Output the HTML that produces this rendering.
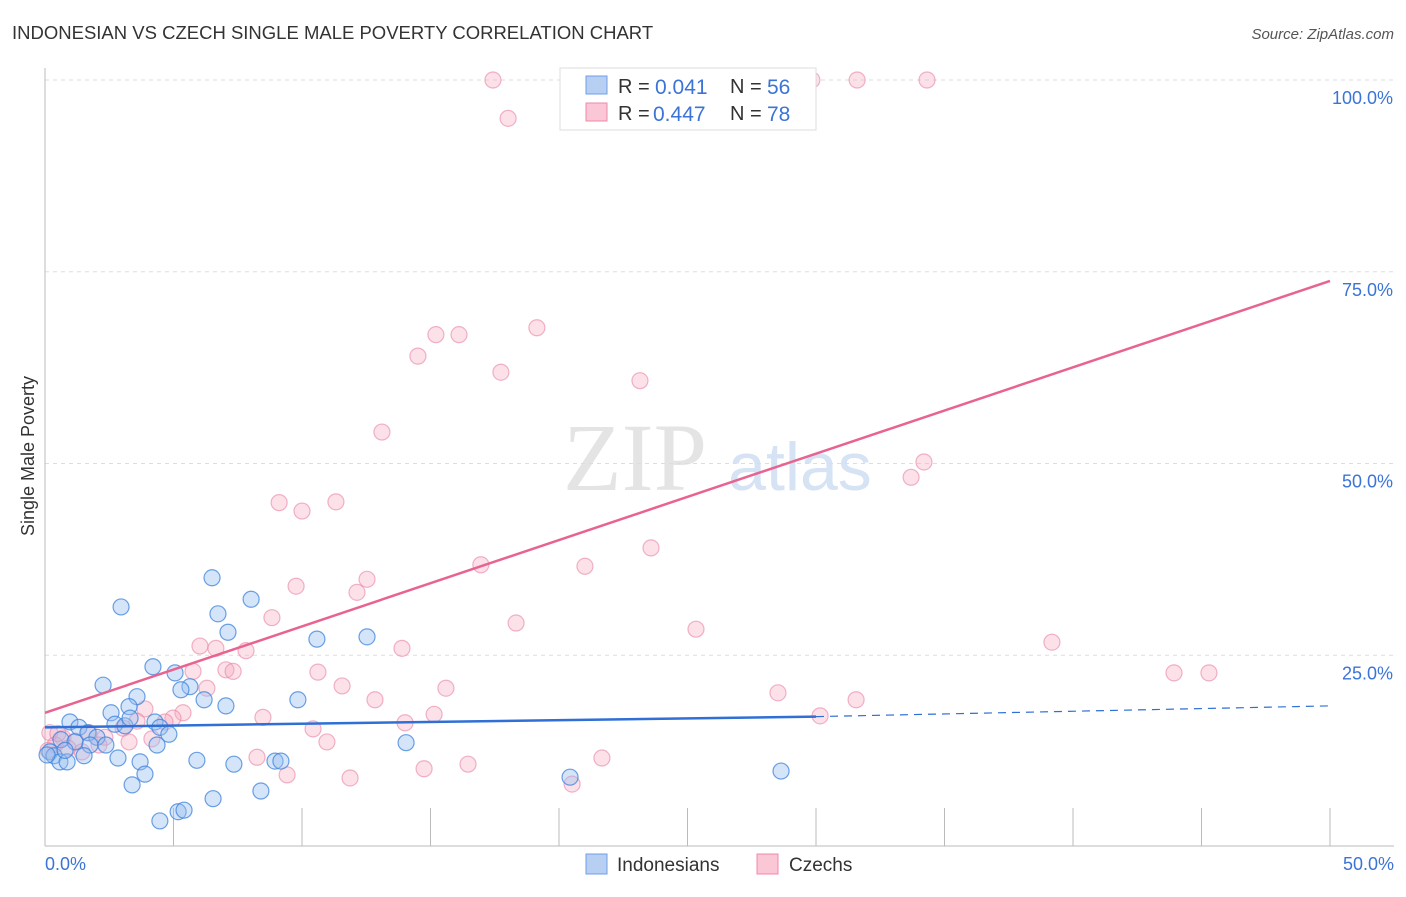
<!DOCTYPE html>
<html><head><meta charset="utf-8"><style>
body{margin:0;background:#fff;font-family:"Liberation Sans",sans-serif}
</style></head><body>
<svg width="1406" height="892" xmlns="http://www.w3.org/2000/svg" id="svg">
<text x="12" y="39" font-size="18.5" fill="#333">INDONESIAN VS CZECH SINGLE MALE POVERTY CORRELATION CHART</text>
<text x="1394" y="39" font-size="15" fill="#555" font-style="italic" text-anchor="end">Source: ZipAtlas.com</text>
<text x="34" y="456" font-size="18" fill="#333" text-anchor="middle" transform="rotate(-90 34 456)">Single Male Poverty</text>
<g>
<text x="635" y="490" font-size="96" fill="#e4e4e4" font-family="Liberation Serif,serif" text-anchor="middle">ZIP</text>
<text x="800" y="490" font-size="68" fill="#d5e3f5" text-anchor="middle">atlas</text>
</g>
<g id="grid"></g>
<g id="marks"></g>
<g id="lines"></g>
<g>
<rect x="560" y="68" width="256" height="62" fill="#fff" stroke="#ddd"/>
<rect x="586" y="76" width="21" height="18" fill="#b7cff3" stroke="#6f9fe4"/>
<rect x="586" y="103" width="21" height="18" fill="#fbc7d6" stroke="#ee8aaa"/>
<text x="618" y="93" font-size="20" fill="#333">R =</text>
<text x="655" y="94" font-size="21" fill="#3b74d6">0.041</text>
<text x="730" y="93" font-size="20" fill="#333">N =</text>
<text x="767" y="94" font-size="21" fill="#3b74d6">56</text>
<text x="618" y="120" font-size="20" fill="#333">R =</text>
<text x="653" y="121" font-size="21" fill="#3b74d6">0.447</text>
<text x="730" y="120" font-size="20" fill="#333">N =</text>
<text x="767" y="121" font-size="21" fill="#3b74d6">78</text>
</g>
<g>
<rect x="586" y="854" width="21" height="20" fill="#b7cff3" stroke="#6f9fe4"/>
<text x="617" y="871" font-size="19" fill="#333">Indonesians</text>
<rect x="757" y="854" width="21" height="20" fill="#fbc7d6" stroke="#ee8aaa"/>
<text x="789" y="871" font-size="19" fill="#333">Czechs</text>
</g>
</svg>
<script>
const yTicks=[25,50,75,100];
const yTickLabels=["25.0%","50.0%","75.0%","100.0%"];
const xTickLabels=["0.0%","50.0%"];
const indoX=[6.50,2.96,8.02,6.73,7.12,10.58,12.53,4.20,5.06,2.26,3.58,5.64,5.29,6.19,9.84,7.04,3.27,2.57,0.97,1.32,2.72,3.11,4.28,4.47,4.82,1.67,2.02,0.62,1.17,1.75,4.36,14.05,0.19,0.35,1.52,0.58,0.86,2.84,3.70,5.91,7.35,8.95,9.18,3.89,20.43,28.64,3.39,8.40,6.54,5.18,5.41,4.47,0.08,2.37,3.31,0.78];
const indoY=[35.1,31.3,32.3,30.4,28.0,27.1,27.4,23.5,22.7,21.1,19.6,20.9,20.5,19.2,19.2,18.4,18.3,17.5,16.3,15.6,16.0,15.8,16.3,15.6,14.7,14.9,14.3,14.0,13.7,13.3,13.3,13.6,12.4,11.9,11.9,11.1,11.1,11.6,11.1,11.3,10.8,11.2,11.2,9.5,9.1,9.9,8.1,7.3,6.3,4.6,4.8,3.4,12.0,13.3,16.8,12.6];
const czX=[17.43,18.02,21.21,22.06,25.68,29.84,31.60,34.32,15.21,16.11,19.14,14.51,17.74,23.15,13.11,34.20,33.70,9.11,11.32,10.00,23.58,16.96,21.01,12.53,9.77,12.14,8.83,18.33,25.33,39.18,6.03,6.65,13.89,7.82,5.76,7.04,7.32,10.62,43.93,45.29,6.30,11.56,15.60,28.52,31.56,12.84,3.89,5.37,8.48,15.14,4.98,30.16,14.01,3.58,4.67,10.43,0.19,1.71,3.04,4.16,2.33,0.70,10.97,3.27,1.17,0.39,2.10,0.89,0.12,1.44,8.25,21.67,16.46,14.75,9.42,11.87,20.51,0.5];
const czY=[100,95.0,100,100,100,100,100,100,66.8,66.8,67.7,64.0,61.9,60.8,54.1,50.2,48.2,44.9,45.0,43.8,39.0,36.8,36.6,34.9,34.0,33.2,29.9,29.2,28.4,26.7,26.2,25.9,25.9,25.6,22.9,23.1,22.9,22.8,22.7,22.7,20.7,21.0,20.7,20.1,19.2,19.2,18.0,17.5,16.9,17.3,16.8,17.1,16.2,16.4,16.3,15.4,14.9,14.9,15.5,14.1,14.3,14.2,13.7,13.7,13.8,13.3,13.3,12.9,12.6,12.4,11.7,11.6,10.8,10.2,9.4,9.0,8.2,14.8];
const indoTrendX=[0,30,50];
const indoTrendY=[15.6,17.0,18.4];
const czTrendX=[0,50];
const czTrendY=[17.5,73.8];
const NS="http://www.w3.org/2000/svg";
const sx=v=>45+v/50*1285;
const sy=v=>847-v/100*767;
function mk(t,a,p){const e=document.createElementNS(NS,t);for(const k in a)e.setAttribute(k,a[k]);(p||document.getElementById('svg')).appendChild(e);return e;}
const grid=document.getElementById('grid');
yTicks.forEach((t,i)=>{
 const l=mk('line',{x1:45,x2:1394,y1:sy(t),y2:sy(t),stroke:'#ddd','stroke-dasharray':'4,4'},grid);
 
 
 const tx=mk('text',{x:1393,y:sy(t)+24,'font-size':18,fill:'#3b74d6','text-anchor':'end'},grid);
 tx.textContent=yTickLabels[i];
 
 
});
const ax=mk('line',{x1:45,x2:45,y1:68,y2:846,stroke:'#bbb'},grid);


const bx=mk('line',{x1:45,x2:1394,y1:846,y2:846,stroke:'#bbb'},grid);


for(let k=1;k<=10;k++){const t=mk('line',{x1:sx(k*5),x2:sx(k*5),y1:808,y2:846,stroke:'#bbb'},grid);
 
 }
[[0,'start',45],[50,'end',1394]].forEach((d,i)=>{const t=mk('text',{x:d[2],y:870,'font-size':18,fill:'#3b74d6','text-anchor':d[1]},grid);t.textContent=xTickLabels[i];
 
 });
const marks=document.getElementById('marks');
czX.forEach((x,i)=>{const c=mk('circle',{cx:sx(x),cy:sy(czY[i]),r:8,fill:'rgba(247,168,192,0.35)',stroke:'rgba(232,130,165,0.6)','stroke-width':1.2},marks);
 
 });
indoX.forEach((x,i)=>{const c=mk('circle',{cx:sx(x),cy:sy(indoY[i]),r:8,fill:'rgba(150,190,240,0.4)',stroke:'rgba(60,130,220,0.75)','stroke-width':1.2},marks);
 
 });
const lines=document.getElementById('lines');
const l1=mk('line',{x1:sx(indoTrendX[0]),y1:sy(indoTrendY[0]),x2:sx(indoTrendX[1]),y2:sy(indoTrendY[1]),stroke:'#2f6fd6','stroke-width':2.5},lines);


const l2=mk('line',{x1:sx(indoTrendX[1]),y1:sy(indoTrendY[1]),x2:sx(indoTrendX[2]),y2:sy(indoTrendY[2]),stroke:'#2f6fd6','stroke-width':1.2,'stroke-dasharray':'8,6'},lines);


const l3=mk('line',{x1:sx(czTrendX[0]),y1:sy(czTrendY[0]),x2:sx(czTrendX[1]),y2:sy(czTrendY[1]),stroke:'#e8638f','stroke-width':2.5},lines);


</script>
</body></html>
